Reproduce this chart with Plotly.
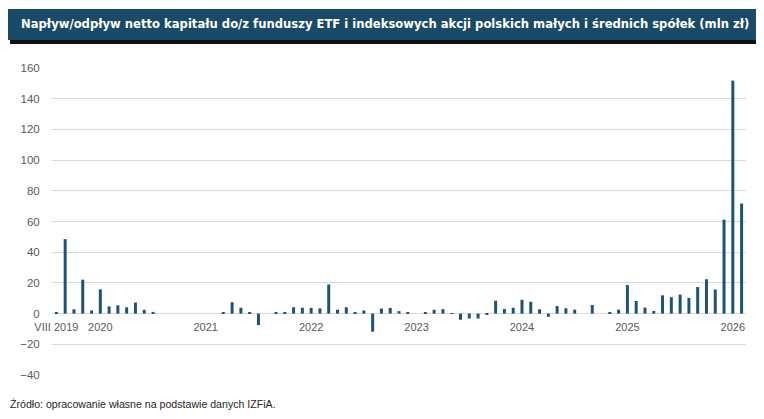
import plotly.graph_objects as go

# ---- data ----
months = [f"{y}-{m:02d}" for y in range(2019, 2027) for m in range(1, 13)]
months = months[months.index("2019-08"):months.index("2026-02") + 1]

values = [
    0.5, 48.5, 2.8, 22.1, 2.0,                 # VIII-XII 2019
    15.8, 4.7, 5.4, 4.1, 7.2, 2.5, 1.1, 0, 0, 0, 0, 0,      # 2020
    0, 0, 0.5, 7.4, 3.8, 0.5, -7.5, 0, 0.5, 0.5, 4.1, 3.8,  # 2021
    3.7, 3.4, 19.0, 2.5, 4.1, 0.5, 2.0, -11.8, 3.3, 3.7, 1.6, 0.6,  # 2022
    0, 0.4, 2.5, 2.9, 0.3, -4.0, -3.2, -3.2, -0.5, 8.4, 3.0, 3.8,   # 2023
    9.0, 7.7, 2.8, -2.1, 4.9, 3.5, 2.6, 0, 5.6, 0, 0.7, 2.6,       # 2024
    18.6, 8.2, 3.9, 1.7, 11.9, 10.7, 12.4, 10.2, 17.3, 22.4, 15.7, 61.2,  # 2025
    151.8, 71.7,                                 # 2026
]

tick_months = ["2019-08", "2020-01", "2021-01", "2022-01", "2023-01",
               "2024-01", "2025-01", "2026-01"]
tick_labels = ["VIII 2019", "2020", "2021", "2022", "2023", "2024", "2025", "2026"]

y_ticks = [-40, -20, 0, 20, 40, 60, 80, 100, 120, 140, 160]

title_text = ("Napływ/odpływ netto kapitału do/z funduszy ETF i indeksowych akcji "
              "polskich małych i średnich spółek (mln zł)")
source_text = "Źródło: opracowanie własne na podstawie danych IZFiA."

# ---- layout geometry (screen px; page body has an 8px margin) ----
OX, OY = 8, 8
W, H = 764 - OX, 419 - OY
L, R, T, B = 52, 746, 68, 375.5          # plot area in screen px
BAR_COLOR = "#1d5373"
BANNER_COLOR = "#1a4a66"


def px(xs):
    return (xs - L) / (R - L)


def py(ys):
    return (B - ys) / (B - T)


fig = go.Figure(go.Bar(x=months, y=values, marker_color=BAR_COLOR,
                       marker_line_width=0))

fig.update_layout(
    width=W, height=H,
    margin=dict(l=L - OX, r=W - (R - OX), t=T - OY, b=H - (B - OY), pad=0),
    paper_bgcolor="white", plot_bgcolor="white",
    bargap=0.66, showlegend=False,
    font=dict(family="Liberation Sans", color="#595959", size=11.5),
    xaxis=dict(
        type="category", tickmode="array", tickvals=tick_months,
        ticktext=tick_labels, showgrid=False, showline=False, zeroline=False,
        anchor="free", position=40 / 200,
        ticks="outside", ticklen=3, tickcolor="rgba(0,0,0,0)",
        tickangle=0, tickfont=dict(size=11, color="#595959"),
    ),
    yaxis=dict(
        range=[-40, 160], tickmode="array", tickvals=y_ticks,
        showgrid=True, gridcolor="#d9d9d9", gridwidth=1,
        zeroline=True, zerolinecolor="#d9d9d9", zerolinewidth=1,
        showline=False, ticks="outside", ticklen=9,
        tickcolor="rgba(0,0,0,0)", tickfont=dict(size=11.5, color="#595959"),
    ),
    shapes=[
        dict(type="rect", xref="paper", yref="paper", layer="above",
             x0=px(10), x1=px(761), y0=py(44), y1=py(13),
             fillcolor="#111111", line_width=0),
        dict(type="rect", xref="paper", yref="paper", layer="above",
             x0=px(6), x1=px(756), y0=py(40), y1=py(9),
             fillcolor=BANNER_COLOR, line_width=0),
    ],
    annotations=[
        dict(text=f"<b>{title_text}</b>", xref="paper", yref="paper",
             x=px(384.5), y=py(23.5), xanchor="center", yanchor="middle",
             showarrow=False,
             font=dict(family="DejaVu Sans Condensed", size=12.9, color="white")),
        dict(text=source_text, xref="paper", yref="paper",
             x=px(8), y=py(405), xanchor="left", yanchor="middle",
             showarrow=False,
             font=dict(family="Liberation Sans", size=10.6, color="#262626")),
    ],
)

fig.write_html("out.html")
